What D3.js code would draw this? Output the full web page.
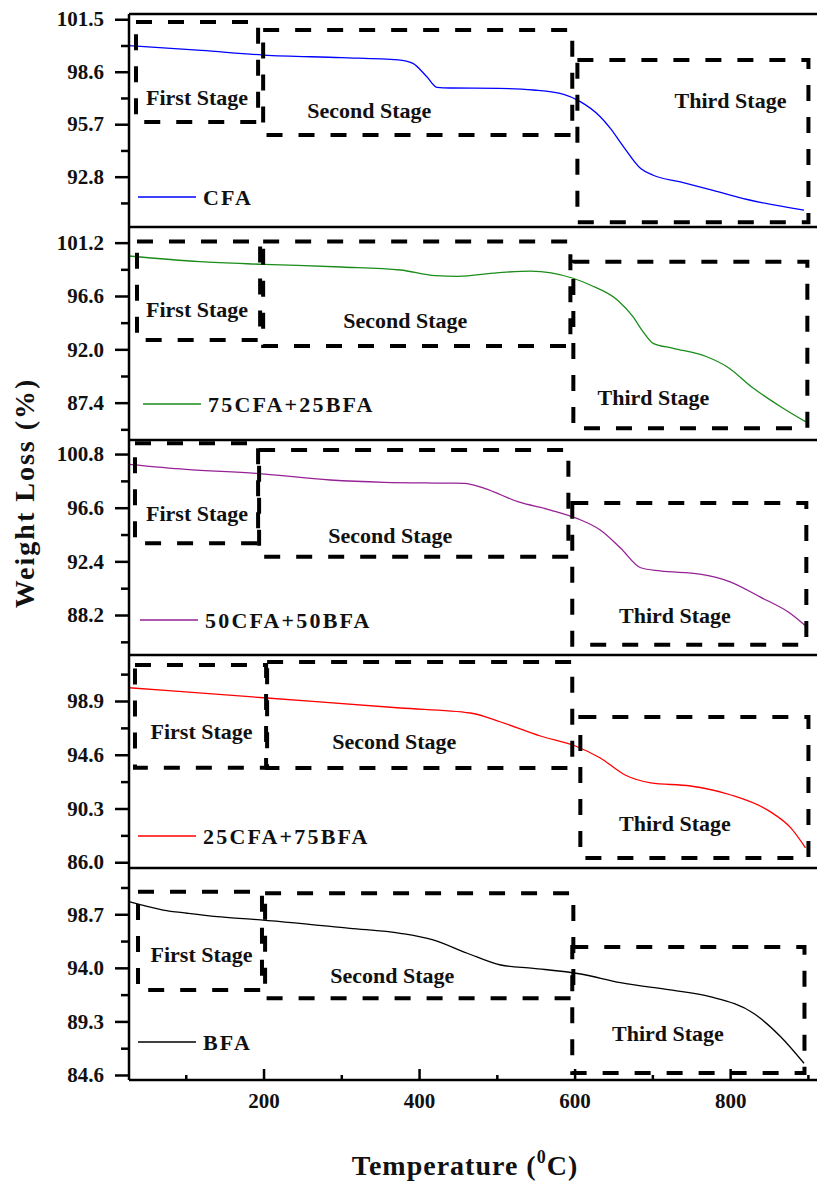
<!DOCTYPE html>
<html>
<head>
<meta charset="utf-8">
<script src="https://cdn.jsdelivr.net/npm/d3@7"></script>
<style>
  html, body { margin: 0; padding: 0; background: #fff; }
  svg { display: block; }
  text { font-family: "Liberation Serif", "Times New Roman", serif; font-weight: bold; fill: #111; }
</style>
</head>
<body>
<svg id="chart" width="817" height="1186"></svg>
<script>
// ---- Data: TGA weight loss (%) vs temperature (°C) ----
const seriesNames = ["CFA", "75CFA+25BFA", "50CFA+50BFA", "25CFA+75BFA", "BFA"];
const seriesColors = ["#0000ff", "#1a8c1a", "#952195", "#ff0000", "#000000"];

const cfaTemp = [27, 120, 200, 300, 373, 392, 410, 423, 440, 502, 547, 586, 605, 633, 646, 663, 685, 701, 736, 778, 822, 895];
const cfaWeight = [100.04, 99.78, 99.52, 99.38, 99.25, 99.06, 98.32, 97.74, 97.70, 97.68, 97.59, 97.35, 97.0, 96.11, 95.47, 94.45, 93.25, 92.88, 92.51, 92.05, 91.54, 90.95];

const mix75Temp = [27, 118, 200, 300, 376, 421, 450, 500, 543, 570, 598, 620, 655, 675, 688, 701, 727, 770, 796, 830, 865, 897];
const mix75Weight = [100.05, 99.56, 99.33, 99.1, 98.84, 98.35, 98.3, 98.6, 98.75, 98.6, 98.13, 97.55, 96.26, 94.82, 93.52, 92.52, 92.09, 91.36, 90.5, 88.64, 87.05, 85.76];

const mix50Temp = [27, 100, 190, 286, 355, 420, 458, 484, 527, 569, 608, 633, 659, 685, 710, 761, 800, 839, 878, 897];
const mix50Weight = [99.99, 99.6, 99.29, 98.77, 98.59, 98.53, 98.51, 98.12, 97.07, 96.42, 95.64, 94.86, 93.45, 91.9, 91.65, 91.4, 90.8, 89.6, 88.3, 87.35];

const mix25Temp = [27, 200, 376, 466, 505, 556, 601, 633, 665, 698, 749, 800, 852, 878, 897];
const mix25Weight = [99.96, 99.16, 98.34, 97.94, 97.22, 96.1, 95.3, 94.34, 92.98, 92.35, 92.1, 91.4, 90.03, 88.75, 87.15];

const bfaTemp = [27, 71, 102, 140, 187, 311, 376, 418, 462, 505, 547, 608, 659, 723, 774, 830, 865, 895];
const bfaWeight = [99.8, 99.07, 98.79, 98.49, 98.26, 97.47, 97.03, 96.45, 95.28, 94.25, 93.96, 93.46, 92.7, 92.06, 91.48, 90.02, 87.96, 85.63];

const seriesTemps = [cfaTemp, mix75Temp, mix50Temp, mix25Temp, bfaTemp];
const seriesWeights = [cfaWeight, mix75Weight, mix50Weight, mix25Weight, bfaWeight];

// Axis ranges and tick labels
const tempDomain = [27, 913];
const tempMajorTicks = [200, 400, 600, 800];
const tempMinorTicks = [100, 300, 500, 700, 900];

const weightDomains = [[90.02, 101.79], [84.18, 102.55], [85.07, 101.9], [85.54, 102.58], [84.16, 102.76]];
const weightMajorTicks = [
  [101.5, 98.6, 95.7, 92.8],
  [101.2, 96.6, 92.0, 87.4],
  [100.8, 96.6, 92.4, 88.2],
  [98.9, 94.6, 90.3, 86.0],
  [98.7, 94.0, 89.3, 84.6]
];
const weightMinorTicks = [
  [100.05, 97.15, 94.25, 91.35],
  [98.9, 94.3, 89.7, 85.1],
  [98.7, 94.5, 90.3, 86.1],
  [101.05, 96.75, 92.45, 88.15],
  [101.05, 96.35, 91.65, 86.95]
];

// Decomposition stages: [T start, T end, W low, W high] in data units
const stageNames = ["First Stage", "Second Stage", "Third Stage"];
const firstStage = [[36, 193, 95.82, 101.35], [37.3, 195.6, 92.8, 101.29], [34.7, 193, 93.82, 101.64], [34.7, 203.3, 93.57, 101.78], [38.6, 198, 92.06, 100.68]];
const secondStage = [[199.5, 597, 95.1, 100.91], [199.5, 594.6, 92.29, 101.29], [194.3, 592, 92.77, 101.11], [204.6, 597, 93.54, 102.02], [202, 598.4, 91.33, 100.54]];
const thirdStage = [[603.6, 900.7, 90.28, 99.25], [598.4, 899.3, 85.19, 99.56], [597, 898, 85.87, 96.97], [607.4, 900.7, 86.35, 97.62], [597, 895.6, 84.78, 95.83]];
// Stage label anchors: [T centre, W baseline]
const firstLabel = [[114.5, 96.76], [114.5, 94.79], [114.5, 95.56], [120.3, 95.86], [120.3, 94.51]];
const secondLabel = [[335.9, 96.04], [382.2, 93.84], [362.9, 93.83], [368.1, 95.06], [365.5, 92.67]];
const thirdLabel = [[800.5, 96.6], [701.4, 87.2], [729, 87.57], [729, 88.5], [720, 87.58]];

// ---- Layout ----
const plotLeft = 129, plotRight = 818;
const panelEdges = [14, 227, 440, 655, 868, 1080];
const legendOffsets = [[138, 183], [143, 177], [140, 180], [138, 181], [138, 174]];

const svg = d3.select("#chart");
const x = d3.scaleLinear().domain(tempDomain).range([plotLeft, plotRight]);

const line = d3.line().curve(d3.curveMonotoneX);

seriesNames.forEach((name, i) => {
  const top = panelEdges[i], bottom = panelEdges[i + 1];
  const y = d3.scaleLinear().domain(weightDomains[i]).range([bottom, top]);
  const g = svg.append("g");

  // y axis: major and minor ticks (outward)
  const yMajor = d3.axisLeft(y).tickValues(weightMajorTicks[i]).tickSize(14).tickPadding(11)
    .tickFormat(d3.format(".1f"));
  const yAxisG = g.append("g").attr("transform", `translate(${plotLeft},0)`).call(yMajor);
  yAxisG.select(".domain").remove();
  yAxisG.selectAll("line").attr("stroke", "#000").attr("stroke-width", 2.5);
  yAxisG.selectAll("text").attr("font-size", 21).style("font-family", '"Liberation Serif", serif').style("font-weight", "bold").attr("fill", "#111");

  const yMinor = d3.axisLeft(y).tickValues(weightMinorTicks[i]).tickSize(8).tickFormat("");
  const yMinorG = g.append("g").attr("transform", `translate(${plotLeft},0)`).call(yMinor);
  yMinorG.select(".domain").remove();
  yMinorG.selectAll("line").attr("stroke", "#000").attr("stroke-width", 2.5);

  // panel top border
  g.append("line").attr("x1", plotLeft).attr("x2", plotRight).attr("y1", top).attr("y2", top)
    .attr("stroke", "#000").attr("stroke-width", 2.5);

  // weight-loss curve
  const pts = seriesTemps[i].map((t, k) => [x(t), y(seriesWeights[i][k])]);
  g.append("path").attr("d", line(pts)).attr("fill", "none")
    .attr("stroke", seriesColors[i]).attr("stroke-width", 1.3);

  // stage boxes
  [firstStage[i], secondStage[i], thirdStage[i]].forEach(b => {
    g.append("rect")
      .attr("x", x(b[0])).attr("y", y(b[3]))
      .attr("width", x(b[1]) - x(b[0])).attr("height", y(b[2]) - y(b[3]))
      .attr("fill", "none").attr("stroke", "#000").attr("stroke-width", 4)
      .attr("stroke-dasharray", "16,16");
  });

  // stage labels
  [firstLabel[i], secondLabel[i], thirdLabel[i]].forEach((p, k) => {
    g.append("text").attr("x", x(p[0])).attr("y", y(p[1]))
      .attr("text-anchor", "middle").attr("font-size", 22).text(stageNames[k]);
  });

  // legend
  const [lx, ly] = legendOffsets[i];
  g.append("line").attr("x1", lx).attr("x2", lx + 58).attr("y1", top + ly).attr("y2", top + ly)
    .attr("stroke", seriesColors[i]).attr("stroke-width", 1.3);
  g.append("text").attr("x", lx + 65).attr("y", top + ly + 8)
    .attr("font-size", 22).attr("letter-spacing", 2.2).text(name);
});

// left axis line and bottom axis line
svg.append("line").attr("x1", plotLeft).attr("x2", plotLeft).attr("y1", panelEdges[0]).attr("y2", panelEdges[5])
  .attr("stroke", "#000").attr("stroke-width", 2.5);

const bottomY = panelEdges[5];
const xMajor = d3.axisBottom(x).tickValues(tempMajorTicks).tickSize(-11).tickPadding(13);
const xAxisG = svg.append("g").attr("transform", `translate(0,${bottomY})`).call(xMajor);
xAxisG.select(".domain").remove();
xAxisG.selectAll("line").attr("stroke", "#000").attr("stroke-width", 2.5);
xAxisG.selectAll("text").attr("font-size", 21).style("font-family", '"Liberation Serif", serif').style("font-weight", "bold").attr("fill", "#111");

const xMinor = d3.axisBottom(x).tickValues(tempMinorTicks).tickSize(-5).tickFormat("");
const xMinorG = svg.append("g").attr("transform", `translate(0,${bottomY})`).call(xMinor);
xMinorG.select(".domain").remove();
xMinorG.selectAll("line").attr("stroke", "#000").attr("stroke-width", 2.5);

svg.append("line").attr("x1", plotLeft).attr("x2", plotRight).attr("y1", bottomY).attr("y2", bottomY)
  .attr("stroke", "#000").attr("stroke-width", 2.5);

// axis titles
svg.append("text").attr("transform", "translate(34,493) rotate(-90)")
  .attr("text-anchor", "middle").attr("font-size", 28).attr("letter-spacing", 2).text("Weight Loss (%)");

const xTitle = svg.append("text").attr("x", 465).attr("y", 1175)
  .attr("text-anchor", "middle").attr("font-size", 28).attr("letter-spacing", 1);
xTitle.append("tspan").text("Temperature (");
xTitle.append("tspan").attr("font-size", 18).attr("dy", -12).text("0");
xTitle.append("tspan").attr("dy", 12).text("C)");
</script>
</body>
</html>
